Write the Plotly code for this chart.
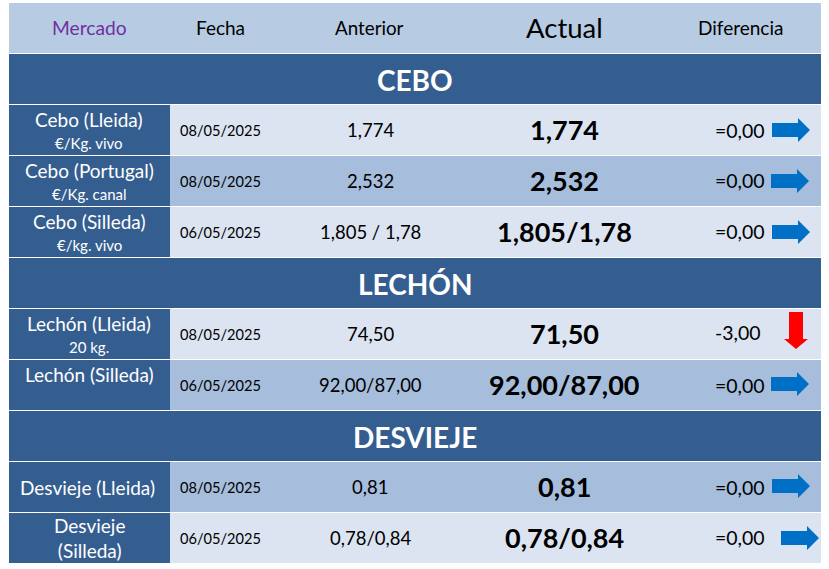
import plotly.graph_objects as go

# ---------- data ----------
headers = ["Mercado", "Fecha", "Anterior", "Actual", "Diferencia"]
sections = ["CEBO", "LECHÓN", "DESVIEJE"]
mercados = [
    ["Cebo (Lleida)", "Cebo (Portugal)", "Cebo (Silleda)"],
    ["Lechón (Lleida)", "Lechón (Silleda)"],
    ["Desvieje (Lleida)", "Desvieje<br>(Silleda)"],
]
unidades = [
    ["€/Kg. vivo", "€/Kg. canal", "€/kg. vivo"],
    ["20 kg.", ""],
    ["", ""],
]
fechas = [
    ["08/05/2025", "08/05/2025", "06/05/2025"],
    ["08/05/2025", "06/05/2025"],
    ["08/05/2025", "06/05/2025"],
]
anterior = [
    ["1,774", "2,532", "1,805 / 1,78"],
    ["74,50", "92,00/87,00"],
    ["0,81", "0,78/0,84"],
]
actual = [
    ["1,774", "2,532", "1,805/1,78"],
    ["71,50", "92,00/87,00"],
    ["0,81", "0,78/0,84"],
]
diferencia = [
    ["=0,00", "=0,00", "=0,00"],
    ["-3,00", "=0,00"],
    ["=0,00", "=0,00"],
]
tendencia = [
    [0, 0, 0],
    [-1, 0],
    [0, 0],
]

# ---------- style / layout ----------
W, H = 829, 569
X0, X1, XM = 9, 821, 170
TOP, STEP, GAP = 3, 51, 1
DARK, LIGHT, MID, HEAD = "#355E90", "#DBE4F0", "#A6BDDC", "#B7CBE3"
BLUE, RED = "#0070C6", "#FF0000"
FONT = "Lato"
XC = dict(merc=89, fecha=220, ant=370, act=564, dif=740)
# per-row fine placement, in reading order
row_fill = [LIGHT, MID, LIGHT, LIGHT, MID, MID, LIGHT]
arrow_dx = [0, -1, 0, 0, -1, 0, 9]
arrow_dy = [0, 0, 0, 0, -1, -1, 0]
diff_dy = [0, -1, -1, -2, 0, 0, -1]

shapes, ann = [], []


def rect(x0, x1, r, fill):
    y0 = TOP + r * STEP
    shapes.append(dict(type="rect", x0=x0, x1=x1, y0=y0, y1=y0 + STEP - GAP,
                       fillcolor=fill, line_width=0, layer="below"))


def text(x, y, s, size, color="black", bold=False):
    ann.append(dict(x=x, y=y, text=f"<b>{s}</b>" if bold else s, showarrow=False,
                    xanchor="center", yanchor="middle",
                    font=dict(family=FONT, size=size, color=color)))


def arrow(cx, cy, trend):
    if trend == 0:
        x0, x1, hx = cx - 19, cx + 19, cx + 7
        p = (f"M{x0},{cy-7} L{hx},{cy-7} L{hx},{cy-12} L{x1},{cy} "
             f"L{hx},{cy+12} L{hx},{cy+7} L{x0},{cy+7} Z")
        c = BLUE
    else:
        y0, y1, hy = cy - 19, cy + 18, cy + 8
        p = (f"M{cx-7},{y0} L{cx+7},{y0} L{cx+7},{hy} L{cx+12},{hy} L{cx},{y1} "
             f"L{cx-12},{hy} L{cx-7},{hy} Z")
        c = RED
    shapes.append(dict(type="path", path=p, fillcolor=c, line_width=0))


# header
rect(X0, X1, 0, HEAD)
hy = TOP + 24.5
for h, x, size, col in zip(headers, [89, 220, 369, 564, 740], [19.2, 19, 18.8, 27.5, 19],
                           ["#7030A0", "black", "black", "black", "black"]):
    text(x, hy, h, size, col)

r = 1
k = 0
for s_i, sec in enumerate(sections):
    rect(X0, X1, r, DARK)
    text(415, TOP + r * STEP + 26, sec, 28, "white", True)
    r += 1
    for j in range(len(mercados[s_i])):
        yc = TOP + r * STEP + 25
        rect(X0, XM, r, DARK)
        rect(XM, X1, r, row_fill[k])
        name, unit = mercados[s_i][j], unidades[s_i][j]
        if unit:
            text(XM - 81, yc - 11, name, 19, "white")
            text(XM - 81, yc + 13, unit, 15, "white")
        elif "Lechón" in name:
            text(XM - 81, yc - 11, name, 19, "white")
        else:
            text(XM - 83 if "<br>" not in name else XM - 81, yc, name, 19, "white")
        text(XC["fecha"], yc, fechas[s_i][j], 14.6)
        text(XC["ant"], yc, anterior[s_i][j], 18.5)
        text(XC["act"], yc - 1, actual[s_i][j], 27, bold=True)
        tr = tendencia[s_i][j]
        dif = diferencia[s_i][j]
        text(XC["dif"] - (2 if tr else 0), yc + diff_dy[k], dif, 19.5)
        if tr == 0:
            arrow(791 + arrow_dx[k], yc + arrow_dy[k], tr)
        else:
            arrow(796, yc - 3, tr)
        r += 1
        k += 1

fig = go.Figure()
fig.update_layout(
    width=W, height=H, margin=dict(l=0, r=0, t=0, b=0),
    paper_bgcolor="white", plot_bgcolor="white", showlegend=False,
    xaxis=dict(range=[0, W], visible=False, fixedrange=True),
    yaxis=dict(range=[H, 0], visible=False, fixedrange=True),
    shapes=shapes, annotations=ann,
)
fig.write_html("out.html", config={"displayModeBar": False},
               post_script="document.body.style.margin='0';document.body.style.overflow='hidden';")
